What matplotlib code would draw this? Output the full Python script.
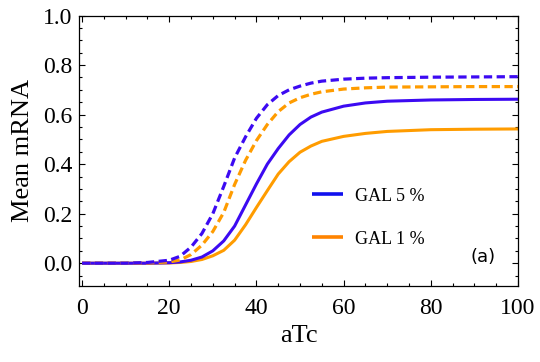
import matplotlib
matplotlib.use("Agg")
import matplotlib.pyplot as plt
from matplotlib.ticker import MultipleLocator

# ---- data ----
atc = [0, 10, 15, 20, 22.5, 25, 27.5, 30, 32.5, 35, 37.5, 40, 42.5, 45, 47.5,
       50, 52.5, 55, 60, 65, 70, 80, 90, 100]

gal5_dashed = [0, 0, 0.003, 0.012, 0.028, 0.065, 0.12, 0.20, 0.31, 0.425, 0.51,
               0.585, 0.64, 0.677, 0.70, 0.715, 0.727, 0.735, 0.743, 0.747,
               0.749, 0.751, 0.752, 0.753]
gal1_dashed = [0, 0, 0.001, 0.005, 0.013, 0.035, 0.073, 0.128, 0.205, 0.318, 0.415,
               0.495, 0.56, 0.612, 0.647, 0.668, 0.682, 0.692, 0.703, 0.708,
               0.711, 0.712, 0.713, 0.713]
gal5_solid = [0, 0, 0, 0.002, 0.005, 0.012, 0.025, 0.05, 0.09, 0.15, 0.235,
              0.32, 0.40, 0.463, 0.518, 0.560, 0.590, 0.610, 0.634, 0.647,
              0.654, 0.659, 0.661, 0.662]
gal1_solid = [0, 0, 0, 0.001, 0.003, 0.007, 0.015, 0.03, 0.052, 0.093, 0.155,
              0.225, 0.293, 0.36, 0.41, 0.448, 0.473, 0.492, 0.512, 0.524,
              0.532, 0.539, 0.541, 0.542]

legend_labels = ["GAL 5 %", "GAL 1 %"]
x_ticks = [0, 20, 40, 60, 80, 100]
y_ticks = [0.0, 0.2, 0.4, 0.6, 0.8, 1.0]

blue = "#3C0AF2"
orange = "#FF9C00"
serif = "Liberation Serif"

fig = plt.figure(figsize=(5.4, 3.62), dpi=100)
ax = fig.add_axes([79 / 540, 1 - 286 / 362, 439 / 540, 270.5 / 362])

dash = (0, (2.6, 1.4))
ax.plot(atc, gal1_solid, color=orange, lw=2.2, solid_capstyle="butt")
ax.plot(atc, gal5_solid, color=blue, lw=2.2, solid_capstyle="butt")
ax.plot(atc, gal1_dashed, color=orange, lw=2.3, linestyle=dash, dash_capstyle="butt")
ax.plot(atc, gal5_dashed, color=blue, lw=2.3, linestyle=dash, dash_capstyle="butt")

ax.set_xlim(-0.7, 100)
ax.set_ylim(-0.092, 1.0)
ax.set_xticks(x_ticks)
ax.set_yticks(y_ticks)
ax.set_xticklabels([str(t) for t in x_ticks])
ax.set_yticklabels([f"{t:.1f}" for t in y_ticks])
ax.xaxis.set_minor_locator(MultipleLocator(5))
ax.yaxis.set_minor_locator(MultipleLocator(0.05))
ax.tick_params(which="both", direction="in", top=True, right=True, width=0.8)
ax.tick_params(which="major", length=4)
ax.tick_params(which="minor", length=2)
ax.tick_params(axis="x", which="major", pad=9)
ax.tick_params(axis="y", which="major", pad=5)
for lab in ax.get_xticklabels() + ax.get_yticklabels():
    lab.set_fontfamily(serif)
    lab.set_fontsize(17)
for s in ax.spines.values():
    s.set_linewidth(0.9)

ax.set_xlabel("aTc", fontfamily=serif, fontsize=19, labelpad=4)
ax.set_ylabel("Mean mRNA", fontfamily=serif, fontsize=19, labelpad=6)

# legend (manual, as in the reference)
leg_colors = ["#1010EE", "#FF8400"]
leg_y = [0.340, 0.180]
for lab, c, yy in zip(legend_labels, leg_colors, leg_y):
    ax.plot([0.531, 0.601], [yy, yy], color=c, lw=2.6, transform=ax.transAxes,
            solid_capstyle="butt")
    ax.text(0.629, yy - 0.008, lab, transform=ax.transAxes, fontfamily=serif,
            fontsize=13, va="center", ha="left")

ax.text(0.92, 0.107, "(a)", transform=ax.transAxes, fontfamily="DejaVu Sans",
        fontsize=13, va="center", ha="center")

fig.savefig("out.png", dpi=100)
